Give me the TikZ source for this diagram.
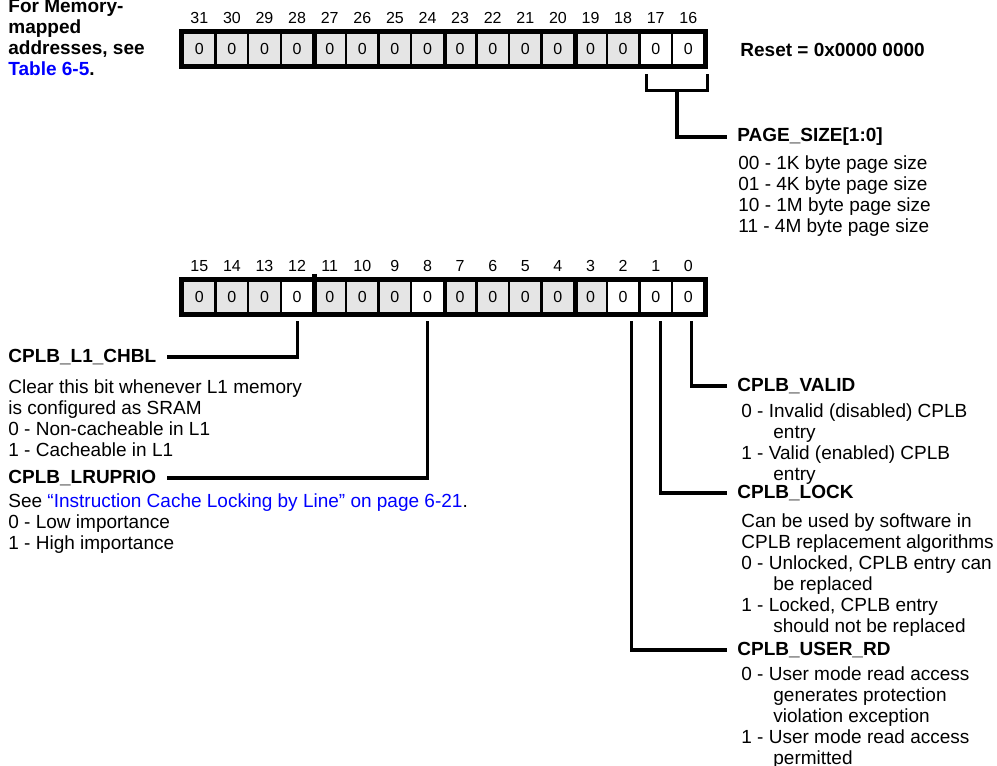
\documentclass[tikz,border=0pt]{standalone}
\usepackage{fontspec}
\setmainfont{Liberation Sans}
\usetikzlibrary{positioning, calc}

\newcommand{\contind}{\hspace*{16pt}}

\begin{document}
\begin{tikzpicture}[
    x=0.5pt, y=-0.5pt,
    cell/.style={rectangle, draw, line width=1.2pt, fill=white,
                 minimum width=16.3pt, minimum height=16pt, inner sep=0pt,
                 font=\fontsize{8}{9}\selectfont},
    bitnum/.style={font=\fontsize{8}{9}\selectfont, inner sep=0pt},
    frame/.style={line width=2.4pt},
    nibble/.style={line width=2.4pt},
    leader/.style={line width=1.6pt},
    field/.style={font=\bfseries\fontsize{9.5}{10.5}\selectfont,
                  inner xsep=5pt, inner ysep=1pt, anchor=west},
    desc/.style={font=\fontsize{9.5}{10.5}\selectfont, align=left,
                 inner sep=0pt, anchor=north west}
]
\useasboundingbox (0,0) rectangle (997,766);

% upper half, bits 31-16
\foreach \b [count=\i from 0] in {31,30,...,16} {
  \ifnum\b>17 \def\cfill{black!10}\else\def\cfill{white}\fi
  \node[cell, fill=\cfill] (t\b) at ({199.3+32.6*\i},49) {0};
  \node[bitnum] (tn\b) at ([yshift=7pt]t\b.north) {\b};
}
\foreach \b in {28,24,20} \draw[nibble] (t\b.north east) -- (t\b.south east);
\draw[frame] (t31.north west) rectangle (t16.south east);

% lower half, bits 15-0
\foreach \b [count=\i from 0] in {15,14,...,0} {
  \def\cfill{black!10}
  \ifnum\b<3 \def\cfill{white}\fi
  \ifnum\b=8 \def\cfill{white}\fi
  \ifnum\b=12 \def\cfill{white}\fi
  \node[cell, fill=\cfill] (b\b) at ({199.3+32.6*\i},297) {0};
  \node[bitnum] (bn\b) at ([yshift=7pt]b\b.north) {\b};
}
\draw[nibble] ([yshift=3pt]b12.north east) -- (b12.south east);
\foreach \b in {8,4} \draw[nibble] (b\b.north east) -- (b\b.south east);
\draw[frame] (b15.north west) rectangle (b0.south east);

\node[desc, font=\bfseries\fontsize{9.5}{10.5}\selectfont] (note) at (8,-1)
  {For Memory-\\mapped\\addresses, see\\\textcolor{blue}{Table 6-5}.};
\node[inner sep=0pt, anchor=west, font=\bfseries\fontsize{9.5}{10.5}\selectfont]
  (reset) at (740,50) {Reset = 0x0000 0000};

% PAGE_SIZE
\node[field] (psize) at (727,137) {PAGE\_SIZE[1:0]};
\node[desc] (psize-d) at (738,155) {00 - 1K byte page size\\01 - 4K byte page size\\
  10 - 1M byte page size\\11 - 4M byte page size};
\coordinate (brl) at ([xshift=4pt, yshift=-4pt]t17.south west);
\coordinate (brr) at ([xshift=1pt, yshift=-4pt]t16.south east);
\draw[leader] (brl) -- ++(0,16) -| (brr);
\coordinate (brm) at ($(brl)!0.5!(brr)+(0,16)$);
\draw[leader] (brm) |- (psize.west);

% left side fields
\node[field] (chbl) at (-2,357) {CPLB\_L1\_CHBL};
\node[desc] (chbl-d) at (8,379) {Clear this bit whenever L1 memory\\is configured as SRAM\\
  0 - Non-cacheable in L1\\1 - Cacheable in L1};
\node[field] (lru) at (-2,478) {CPLB\_LRUPRIO};
\node[desc] (lru-d) at (8,493) {See \textcolor{blue}{“Instruction Cache Locking by Line” on page 6-21}.\\
  0 - Low importance\\1 - High importance};

% right side fields
\node[field] (valid) at (727,386) {CPLB\_VALID};
\node[desc] (valid-d) at (741,403) {0 - Invalid (disabled) CPLB\\\contind entry\\
  1 - Valid (enabled) CPLB\\\contind entry};
\node[field] (lock) at (727,493) {CPLB\_LOCK};
\node[desc] (lock-d) at (741,513) {Can be used by software in\\CPLB replacement algorithms\\
  0 - Unlocked, CPLB entry can\\\contind be replaced\\1 - Locked, CPLB entry\\
  \contind should not be replaced};
\node[field] (userrd) at (727,650) {CPLB\_USER\_RD};
\node[desc] (userrd-d) at (741,666) {0 - User mode read access\\\contind generates protection\\
  \contind violation exception\\1 - User mode read access\\\contind permitted};

\draw[leader] ([yshift=-3.5pt]b12.south) |- (chbl.east);
\draw[leader] ([yshift=-3.5pt]b8.south) |- (lru.east);
\draw[leader] ([xshift=4pt, yshift=-3.5pt]b2.south) |- (userrd.west);
\draw[leader] ([xshift=2.5pt, yshift=-3.5pt]b1.south) |- (lock.west);
\draw[leader] ([xshift=1.5pt, yshift=-3.5pt]b0.south) |- (valid.west);
\end{tikzpicture}
\end{document}
